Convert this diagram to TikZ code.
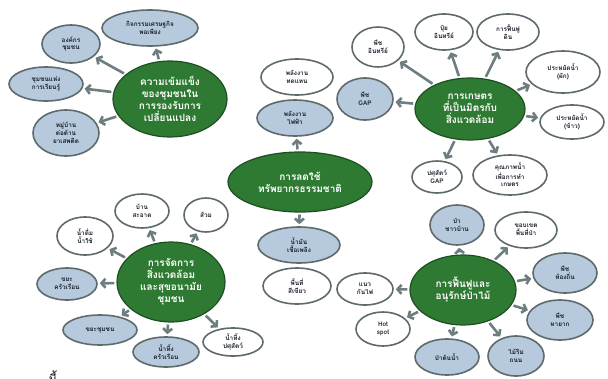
\documentclass[tikz,border=0pt]{standalone}
\usepackage{fontspec}
\usetikzlibrary{shapes.geometric,arrows.meta}
\newfontfamily\thai[Script=Thai]{Loma}
\definecolor{gfill}{HTML}{2E7A32}
\definecolor{gdraw}{HTML}{1E4F22}
\definecolor{bfill}{HTML}{B6C9DD}
\definecolor{bordc}{HTML}{5F6A6B}
\definecolor{arrc}{HTML}{6E7D7F}
\definecolor{txtc}{HTML}{1A1F2A}
\tikzset{
  bub/.style={ellipse, draw=bordc, line width=1.6pt, inner sep=0pt, align=center,
    text=txtc, font=\thai\bfseries\fontsize{6.4}{7.7}\selectfont},
  wbub/.style={bub, fill=white},
  bbub/.style={bub, fill=bfill},
  hub/.style={ellipse, draw=gdraw, fill=gfill, line width=1.2pt, inner sep=0pt, align=center,
    text=white, font=\thai\bfseries\fontsize{10}{12}\selectfont},
  arr/.style={draw=arrc, line width=2.6pt, -{Straight Barb[length=4pt,width=9pt]},
    shorten <=2pt, shorten >=2pt},
  sz/.style 2 args={minimum width=#1pt, minimum height=#2pt}
}
\begin{document}
\begin{tikzpicture}[x=1pt,y=-1pt]
\useasboundingbox (0,0) rectangle (608,378);
\fill[white] (0,0) rectangle (608,378);
% cluster A
\node[hub,sz={114}{76}] (A) at (170,99) {ความเข้มแข็ง\\ของชุมชนใน\\การรองรับการ\\เปลี่ยนแปลง};
\node[bbub,sz={96}{36}] (A1) at (150,28) {กิจกรรมเศรษฐกิจ\\พอเพียง};
\node[bbub,sz={58}{38}] (A2) at (71,44) {องค์กร\\ชุมชน};
\node[bbub,sz={74}{34}] (A3) at (46,84) {ชุมชนแห่ง\\การเรียนรู้};
\node[bbub,sz={66}{46}] (A4) at (66,133) {หมู่บ้าน\\ต่อต้าน\\ยาเสพติด};
% cluster B
\node[hub,sz={144}{60}] (B) at (300,182) {การลดใช้\\ทรัพยากรธรรมชาติ};
\node[wbub,sz={72}{36}] (B1) at (297,77) {พลังงาน\\ทดแทน};
\node[bbub,sz={76}{36}] (B2) at (295,118) {พลังงาน\\ไฟฟ้า};
\node[bbub,sz={82}{36}] (B3) at (299,245) {น้ำมัน\\เชื้อเพลิง};
\node[wbub,sz={68}{36}] (B4) at (297,286) {พื้นที่\\สีเขียว};
% cluster C
\node[hub,sz={110}{62}] (C) at (470,109) {การเกษตร\\ที่เป็นมิตรกับ\\สิ่งแวดล้อม};
\node[wbub,sz={52}{40}] (C1) at (378,47) {พืช\\อินทรีย์};
\node[bbub,sz={56}{42}] (C2) at (365,99) {พืช\\GAP};
\node[wbub,sz={58}{36}] (C3) at (444,32) {ปุ๋ย\\อินทรีย์};
\node[wbub,sz={62}{36}] (C4) at (508,32) {การฟื้นฟู\\ดิน};
\node[wbub,sz={74}{42}] (C5) at (563,72) {ประหยัดน้ำ\\(ผัก)};
\node[wbub,sz={64}{34}] (C6) at (572,122) {ประหยัดน้ำ\\(ข้าว)};
\node[wbub,sz={74}{40}] (C7) at (510,175) {คุณภาพน้ำ\\เพื่อการทำ\\เกษตร};
\node[wbub,sz={50}{32}] (C8) at (437,177) {ปศุสัตว์\\GAP};
% cluster D
\node[hub,sz={108}{80}] (D) at (171,282) {การจัดการ\\สิ่งแวดล้อม\\และสุขอนามัย\\ชุมชน};
\node[wbub,sz={54}{34}] (D1) at (142,211) {บ้าน\\สะอาด};
\node[wbub,sz={44}{34}] (D2) at (206,215) {ส้วม};
\node[wbub,sz={56}{38}] (D3) at (85,236) {น้ำดื่ม\\น้ำใช้};
\node[bbub,sz={60}{32}] (D4) at (67,284) {ขยะ\\ครัวเรือน};
\node[bbub,sz={74}{30}] (D5) at (100,330) {ขยะชุมชน};
\node[bbub,sz={66}{30}] (D6) at (166,352) {น้ำทิ้ง\\ครัวเรือน};
\node[wbub,sz={60}{28}] (D7) at (233,342) {น้ำทิ้ง\\ปศุสัตว์};
% cluster E
\node[hub,sz={106}{70}] (E) at (463,290) {การฟื้นฟูและ\\อนุรักษ์ป่าไม้};
\node[bbub,sz={54}{40}] (E1) at (457,225) {ป่า\\ชาวบ้าน};
\node[wbub,sz={62}{36}] (E2) at (526,230) {ขอบเขต\\พื้นที่ป่า};
\node[bbub,sz={64}{40}] (E3) at (565,273) {พืช\\ท้องถิ่น};
\node[bbub,sz={66}{40}] (E4) at (560,320) {พืช\\หายาก};
\node[bbub,sz={56}{40}] (E5) at (516,356) {ไม้ริม\\ถนน};
\node[bbub,sz={64}{36}] (E6) at (447,357) {ป่าต้นน้ำ};
\node[wbub,sz={54}{34}] (E7) at (383,329) {Hot\\spot};
\node[wbub,sz={56}{32}] (E8) at (365,289) {แนว\\กันไฟ};
% arrows
\foreach \t in {A1,A2,A3,A4} \draw[arr] (A) -- (\t);
\foreach \t in {B2,B3} \draw[arr] (B) -- (\t);
\foreach \t in {C1,C2,C3,C4,C5,C6,C7,C8} \draw[arr] (C) -- (\t);
\foreach \t in {D1,D2,D3,D4,D5,D6,D7} \draw[arr] (D) -- (\t);
\foreach \t in {E1,E2,E3,E4,E5,E6,E7,E8} \draw[arr] (E) -- (\t);
% cut-off text at the bottom edge (only its top shows, as in the reference)
\node[anchor=base, inner sep=0pt, text=black, font=\thai\fontsize{12}{14}\selectfont] (foot) at (53,383) {นี้};
\end{tikzpicture}
\end{document}
